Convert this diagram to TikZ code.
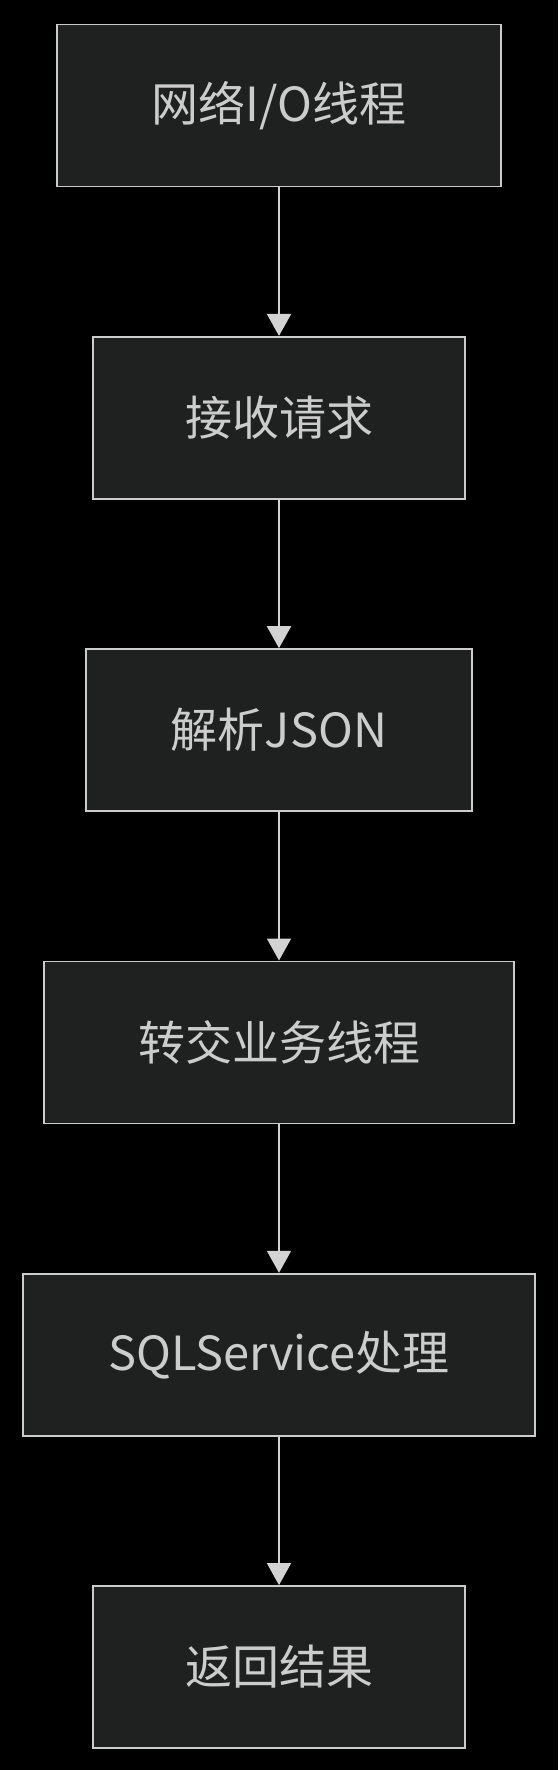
\documentclass[tikz,border=0pt]{standalone}
\usepackage{fontspec}
\setmainfont{Noto Sans CJK SC}
\usepackage{tikz}
\usetikzlibrary{arrows.meta,positioning}
\definecolor{bgblack}{HTML}{000000}
\definecolor{boxfill}{HTML}{1F2020}
\definecolor{boxline}{HTML}{CCCCCC}
\definecolor{linkgray}{HTML}{D3D3D3}
\definecolor{txtgray}{HTML}{CCCCCC}

\begin{document}
\begin{tikzpicture}[
    x=1pt,y=1pt,
    node distance=148.5pt,
    box/.style={rectangle,draw=boxline,fill=boxfill,line width=1.8pt,align=center,
      minimum height=162pt,inner sep=0pt,text=txtgray,
      font=\fontsize{47pt}{56pt}\selectfont},
    link/.style={->,draw=linkgray,line width=1.8pt},
    >={Triangle[width=24pt,length=22pt]}]
    \fill[bgblack] (0,0) rectangle (558,-1770);
    \useasboundingbox (0,0) rectangle (558,-1770);

    \node[box,minimum width=444pt] (io) at (279,-105.5) {网络I/O线程};
    \node[box,minimum width=372pt,below=of io] (recv) {接收请求};
    \node[box,minimum width=386pt,below=of recv] (json) {解析JSON};
    \node[box,minimum width=470pt,below=of json] (biz) {转交业务线程};
    \node[box,minimum width=512pt,below=of biz] (sql) {SQLService处理};
    \node[box,minimum width=372pt,below=of sql] (ret) {返回结果};

    \draw[link] (io) -- (recv);
    \draw[link] (recv) -- (json);
    \draw[link] (json) -- (biz);
    \draw[link] (biz) -- (sql);
    \draw[link] (sql) -- (ret);
  \end{tikzpicture}
\end{document}
